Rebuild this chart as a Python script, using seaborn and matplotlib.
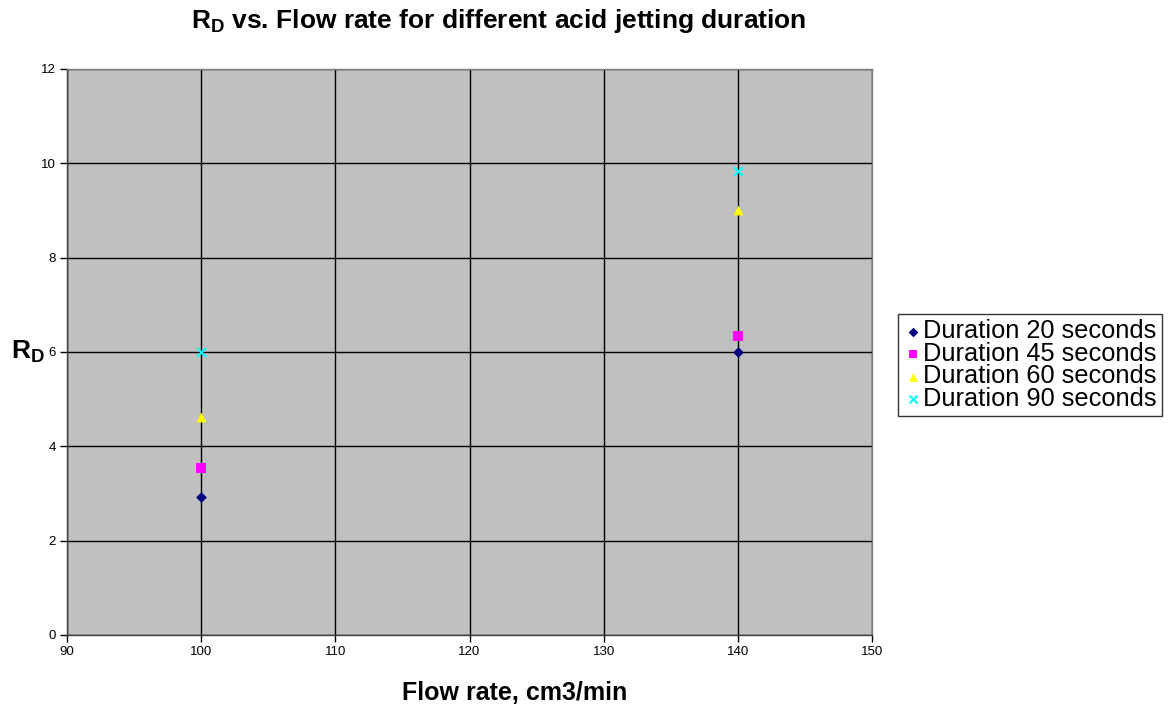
import matplotlib
matplotlib.use("Agg")
import matplotlib.pyplot as plt
import seaborn as sns
import pandas as pd

flow_rates = [100, 140]
rd_20 = [2.92, 6.0]
rd_45 = [3.54, 6.34]
rd_60 = [4.62, 9.01]
rd_90 = [6.0, 9.83]
series_names = ["Duration 20 seconds", "Duration 45 seconds",
                "Duration 60 seconds", "Duration 90 seconds"]
x_ticks = [90, 100, 110, 120, 130, 140, 150]
y_ticks = [0, 2, 4, 6, 8, 10, 12]

rows = []
for name, vals in zip(series_names, [rd_20, rd_45, rd_60, rd_90]):
    for x, y in zip(flow_rates, vals):
        rows.append({"Flow": x, "RD": y, "Series": name})
df = pd.DataFrame(rows)

sns.set_style("white")
plt.rcParams['font.family'] = ['Liberation Sans', 'DejaVu Sans']
plt.rcParams['mathtext.fontset'] = 'custom'
plt.rcParams['mathtext.rm'] = 'Liberation Sans'
plt.rcParams['mathtext.bf'] = 'Liberation Sans:bold'
plt.rcParams['mathtext.it'] = 'Liberation Sans:italic'
plt.rcParams['text.color'] = 'black'
plt.rcParams['axes.labelcolor'] = 'black'
plt.rcParams['xtick.color'] = 'black'
plt.rcParams['ytick.color'] = 'black'

fig = plt.figure(figsize=(11.74, 7.09), dpi=100)
ax = fig.add_axes([0.0571, 0.1044, 0.6857, 0.7983])
ax.set_facecolor("#C0C0C0")

palette = {series_names[0]: "#000080", series_names[1]: "#FF00FF",
           series_names[2]: "#FFFF00", series_names[3]: "#00FFFF"}
markers = {series_names[0]: "D", series_names[1]: "s",
           series_names[2]: "^", series_names[3]: "x"}
sizes_map = {series_names[0]: 30, series_names[1]: 50,
             series_names[2]: 50, series_names[3]: 40}

for name in series_names:
    sub = df[df["Series"] == name]
    kw = dict(marker=markers[name], color=palette[name], s=sizes_map[name],
              label=name, zorder=3)
    if markers[name] == "x":
        kw["linewidth"] = 1.5
    else:
        kw["edgecolor"] = palette[name]
        kw["linewidth"] = 0
    sns.scatterplot(data=sub, x="Flow", y="RD", ax=ax, **kw)

ax.set_xlim(90, 150)
ax.set_ylim(0, 12)
ax.set_xticks(x_ticks)
ax.set_yticks(y_ticks)
ax.grid(True, color="black", linewidth=1)
ax.set_axisbelow(True)
for s in ax.spines.values():
    s.set_color("#808080")
    s.set_linewidth(1)
ax.spines["left"].set_color("#404040")
ax.spines["bottom"].set_color("#404040")
ax.tick_params(axis="both", which="major", direction="out", length=5,
               width=1, color="black", labelcolor="black", labelsize=9.5, pad=3,
               bottom=True, left=True)

ax.set_xlabel("Flow rate, cm3/min", fontsize=18, fontweight="bold", color="black")
ax.xaxis.set_label_coords(0.5565, -0.082)
ax.set_ylabel(r"$\mathbf{R_D}$", fontsize=19, rotation=0, va="center", ha="center",
              color="black")
ax.yaxis.set_label_coords(-0.049, 0.50)
fig.suptitle(r"$\mathbf{R_D}$ vs. Flow rate for different acid jetting duration",
             fontsize=19, fontweight="bold", x=0.425, y=0.99, color="black")

leg = ax.legend(loc="center left", bbox_to_anchor=(1.032, 0.477), frameon=True,
                fancybox=False, edgecolor="black", fontsize=18.3,
                handletextpad=0.0, handlelength=0.8, borderpad=0.2,
                labelspacing=-0.06, borderaxespad=0, markerscale=0.9)
leg.get_frame().set_linewidth(1)
for t in leg.get_texts():
    t.set_color("black")

fig.savefig("out.png", dpi=100)
